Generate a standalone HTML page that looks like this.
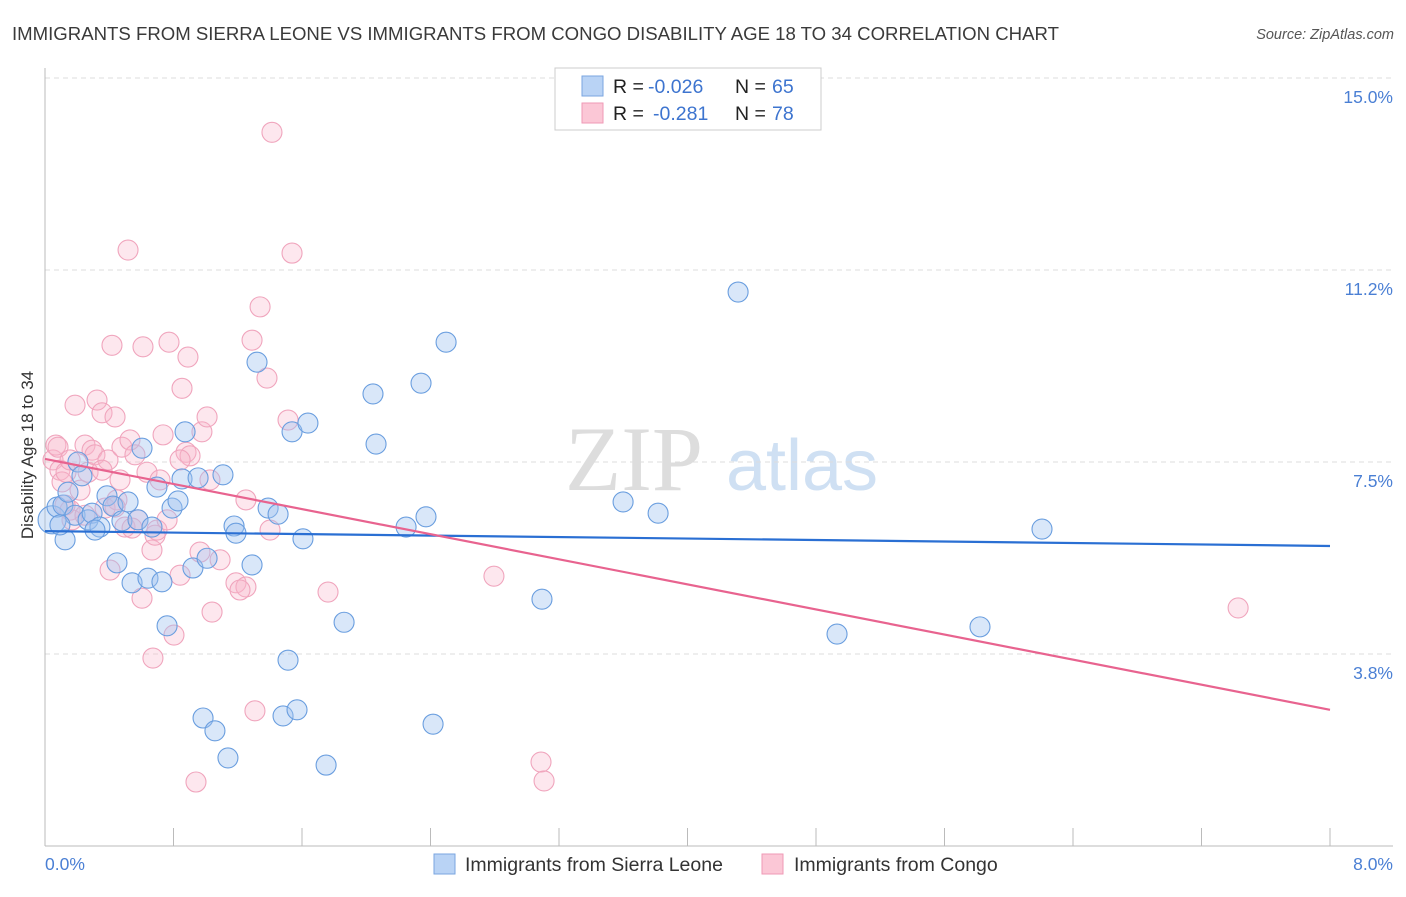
<!DOCTYPE html>
<html><head><meta charset="utf-8"><style>
body{margin:0;background:#fff;font-family:"Liberation Sans",sans-serif}
</style></head><body>
<svg id="c" width="1406" height="892" xmlns="http://www.w3.org/2000/svg" style="font-family:'Liberation Sans',sans-serif">
<text x="12" y="40" font-size="18.6" fill="#3a3a3a">IMMIGRANTS FROM SIERRA LEONE VS IMMIGRANTS FROM CONGO DISABILITY AGE 18 TO 34 CORRELATION CHART</text>
<text x="1394" y="39" font-size="14.5" fill="#555" font-style="italic" text-anchor="end">Source: ZipAtlas.com</text>
<text x="33" y="455" font-size="17" fill="#333" text-anchor="middle" transform="rotate(-90 33 455)">Disability Age 18 to 34</text>
<g><text x="634" y="490" font-size="92" fill="#ddd" font-family="Liberation Serif" text-anchor="middle">ZIP</text><text x="802" y="490" font-size="72" fill="#cfe0f3" text-anchor="middle">atlas</text></g>
<g id="grid"></g><g id="axes"></g><g id="pts"></g><g id="trend"></g>
<g>
<rect x="555" y="68" width="266" height="62" fill="#fff" stroke="#ccc"/>
<rect x="582" y="76" width="21" height="20" fill="#b9d3f5" stroke="#7aa6e0"/>
<rect x="582" y="103" width="21" height="20" fill="#fbc7d6" stroke="#ef9ab6"/>
<text x="613" y="93" font-size="19.5" fill="#222">R =</text>
<text x="648" y="93" font-size="19.5" fill="#3d74cf">-0.026</text>
<text x="735" y="93" font-size="19.5" fill="#222">N =</text>
<text x="772" y="93" font-size="19.5" fill="#3d74cf">65</text>
<text x="613" y="120" font-size="19.5" fill="#222">R =</text>
<text x="653" y="120" font-size="19.5" fill="#3d74cf">-0.281</text>
<text x="735" y="120" font-size="19.5" fill="#222">N =</text>
<text x="772" y="120" font-size="19.5" fill="#3d74cf">78</text>
</g>
<g>
<rect x="434" y="854" width="21" height="20" fill="#b9d3f5" stroke="#7aa6e0"/>
<text x="465" y="871" font-size="19.5" fill="#333">Immigrants from Sierra Leone</text>
<rect x="762" y="854" width="21" height="20" fill="#fbc7d6" stroke="#ef9ab6"/>
<text x="794" y="871" font-size="19.5" fill="#333">Immigrants from Congo</text>
</g>
</svg>
<script>
const yTicks=[3.75,7.5,11.25,15];
const yTickLabels=["3.8%","7.5%","11.2%","15.0%"];
const xTicks=[0,0.8,1.6,2.4,3.2,4.0,4.8,5.6,6.4,7.2,8.0];
const blueX=[.044,.075,.112,.143,.187,.205,.230,.268,.293,.342,.386,.423,.448,.479,.517,.542,.579,.604,.641,.666,.697,.728,.760,.791,.828,.853,.872,.921,.953,.984,1.009,1.058,1.108,1.139,1.177,1.189,1.289,1.320,1.389,1.451,1.482,1.513,1.538,1.569,1.606,1.637,1.750,1.862,2.042,2.061,2.248,2.341,2.372,2.416,2.497,3.094,3.599,3.817,4.315,4.931,5.821,6.207,.125,.093,.311];
const blueY=[6.37,6.62,6.66,6.91,6.46,7.50,7.23,6.37,6.50,6.23,6.84,6.64,5.53,6.35,6.72,5.14,6.37,7.77,5.23,6.23,7.01,5.16,4.30,6.60,6.74,7.17,8.09,5.43,7.19,2.50,5.62,2.25,7.25,1.72,6.25,6.11,5.49,9.45,6.60,6.48,2.54,3.63,8.09,2.66,6.00,8.26,1.58,4.37,8.83,7.85,6.23,9.04,6.43,2.38,9.84,4.82,6.72,6.50,10.82,4.14,4.28,6.19,5.98,6.27,6.17];
const pinkX=[.050,.068,.081,.093,.106,.131,.156,.168,.187,.218,.249,.268,.293,.311,.324,.355,.374,.392,.405,.417,.436,.448,.467,.479,.498,.517,.529,.560,.579,.604,.610,.635,.666,.672,.685,.697,.716,.735,.760,.772,.803,.841,.853,.878,.890,.903,.940,.965,.977,1.009,1.027,1.040,1.090,1.189,1.251,1.251,1.289,1.307,1.339,1.382,1.401,1.413,1.513,1.538,1.762,2.795,3.088,3.107,7.428,.436,.125,.249,.542,.355,.841,1.214,.156];
const pinkY=[7.54,7.83,7.79,7.34,7.11,7.30,6.56,6.37,8.61,6.95,7.83,7.30,7.73,7.64,8.71,8.46,6.60,7.54,5.39,9.78,8.38,6.76,7.15,7.79,6.23,11.64,7.93,7.64,6.37,4.84,9.75,7.30,5.78,3.67,6.07,6.17,7.15,8.03,6.37,9.84,4.12,5.29,8.94,7.69,9.55,7.62,1.25,5.74,8.09,8.38,7.15,4.57,5.59,5.14,5.06,6.76,9.88,2.64,10.53,9.14,6.17,13.94,8.32,11.58,4.96,5.27,1.64,1.27,4.65,6.62,6.66,6.46,6.21,7.34,7.54,5.00,7.54];
const blueTrend=[6.15,5.86];
const pinkTrend=[7.56,2.66];
const X0=45,X1=1330,Y0=846,Y1=78;
const sx=v=>X0+(v/8)*(X1-X0);
const sy=v=>Y0-(v/15)*(Y0-Y1);
const NS="http://www.w3.org/2000/svg";
function mk(t,a,p){const e=document.createElementNS(NS,t);for(const k in a)e.setAttribute(k,a[k]);p.appendChild(e);return e;}
const grid=document.getElementById('grid'),axes=document.getElementById('axes'),pts=document.getElementById('pts'),trend=document.getElementById('trend');
yTicks.forEach((v,i)=>{
 const l=mk('line',{x1:X0,x2:1393,y1:sy(v),y2:sy(v),stroke:'#ddd','stroke-dasharray':'5,4'},grid);
 
 
 const t=mk('text',{x:1393,y:sy(v)+25,'font-size':17.5,fill:'#4a7fd4','text-anchor':'end'},axes);
 t.textContent=yTickLabels[i];
 
 
});
let a=mk('line',{x1:X0,x2:X0,y1:68,y2:Y0,stroke:'#bbb'},axes);


a=mk('line',{x1:X0,x2:1393,y1:Y0,y2:Y0,stroke:'#bbb'},axes);


xTicks.forEach(v=>{
 const l=mk('line',{x1:sx(v),x2:sx(v),y1:828,y2:Y0,stroke:'#bbb'},axes);
 
 
});
let t=mk('text',{x:45,y:870,'font-size':17.5,fill:'#4a7fd4'},axes);t.textContent='0.0%';


t=mk('text',{x:1393,y:870,'font-size':17.5,fill:'#4a7fd4','text-anchor':'end'},axes);t.textContent='8.0%';


pinkX.forEach((v,i)=>{
 const c=mk('circle',{cx:sx(v),cy:sy(pinkY[i]),r:10,fill:'rgba(248,182,202,0.33)',stroke:'#f0a5bd','stroke-width':1.1},pts);
 
 
});
blueX.forEach((v,i)=>{
 const c=mk('circle',{cx:sx(v),cy:sy(blueY[i]),r:i===0?14:10,fill:'rgba(160,196,240,0.4)',stroke:'#6a9edf','stroke-width':1.1},pts);
 
 
});
let tl=mk('line',{x1:sx(0),x2:sx(8),y1:sy(blueTrend[0]),y2:sy(blueTrend[1]),stroke:'#2a6fd3','stroke-width':2.2},trend);


tl=mk('line',{x1:sx(0),x2:sx(8),y1:sy(pinkTrend[0]),y2:sy(pinkTrend[1]),stroke:'#e8638f','stroke-width':2.2},trend);


</script>
</body></html>
